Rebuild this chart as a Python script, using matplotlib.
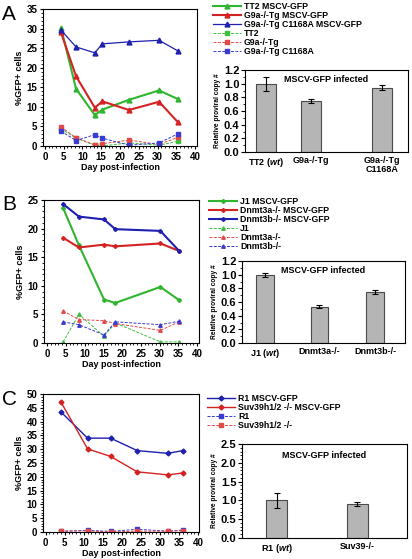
import matplotlib
matplotlib.use("Agg")
import matplotlib.pyplot as plt
from matplotlib.ticker import MultipleLocator

plt.rcParams['font.family'] = ['Liberation Sans', 'DejaVu Sans']
plt.rcParams['font.weight'] = 'bold'
plt.rcParams['mathtext.fontset'] = 'custom'
plt.rcParams['mathtext.it'] = 'Liberation Sans:italic:bold'
plt.rcParams['mathtext.rm'] = 'Liberation Sans:bold'

# ---------------- data ----------------
A_days = [4.3, 8.3, 13.3, 15.3, 22.4, 30.4, 35.4]
A_tt2_gfp = [30.2, 14.6, 7.9, 9.3, 11.8, 14.2, 12.0]
A_g9a_gfp = [29.0, 17.8, 9.8, 11.4, 9.2, 11.3, 6.1]
A_c1168a_gfp = [29.6, 25.3, 23.8, 26.1, 26.6, 27.0, 24.3]
A_tt2 = [4.4, 2.0, 0.2, 0.0, 0.8, 0.2, 1.2]
A_g9a = [4.9, 2.1, 0.3, 0.6, 1.5, 0.4, 2.2]
A_c1168a = [3.8, 1.4, 2.9, 2.0, 0.2, 0.8, 3.1]
A_labels = ['TT2 MSCV-GFP', 'G9a-/-Tg MSCV-GFP', 'G9a-/-Tg C1168A MSCV-GFP',
            'TT2', 'G9a-/-Tg', 'G9a-/-Tg C1168A']

B_days = [4.3, 8.5, 15.2, 18.2, 30.2, 35.2]
B_j1_gfp = [23.6, 17.1, 7.6, 7.0, 9.8, 7.5]
B_3a_gfp = [18.4, 16.7, 17.2, 16.9, 17.4, 16.1]
B_3b_gfp = [24.3, 22.1, 21.6, 19.9, 19.6, 16.1]
B_j1 = [0.2, 5.0, 1.2, 3.5, 0.2, 0.2]
B_3a = [5.6, 4.1, 3.9, 3.4, 2.2, 3.7]
B_3b = [3.7, 3.2, 1.4, 3.7, 3.2, 3.8]
B_labels = ['J1 MSCV-GFP', 'Dnmt3a-/- MSCV-GFP', 'Dnmt3b-/- MSCV-GFP',
            'J1', 'Dnmt3a-/-', 'Dnmt3b-/-']

C_days = [4.0, 11.0, 17.0, 24.0, 32.0, 36.0]
C_r1_gfp = [43.5, 34.0, 34.0, 29.5, 28.5, 29.5]
C_suv_gfp = [47.1, 30.1, 27.4, 21.8, 20.7, 21.4]
C_r1 = [0.2, 0.6, 0.2, 1.0, 0.3, 0.7]
C_suv = [0.4, 0.4, 0.0, 0.3, 0.3, 0.5]
C_labels = ['R1 MSCV-GFP', 'Suv39h1/2 -/- MSCV-GFP', 'R1', 'Suv39h1/2 -/-']

A_bar_labels = ['TT2 ($\\mathit{wt}$)', 'G9a-/-Tg', 'G9a-/-Tg\nC1168A']
A_bar_vals = [1.0, 0.75, 0.94]
A_bar_err = [0.1, 0.03, 0.035]
B_bar_labels = ['J1 ($\\mathit{wt}$)', 'Dnmt3a-/-', 'Dnmt3b-/-']
B_bar_vals = [1.0, 0.53, 0.75]
B_bar_err = [0.03, 0.025, 0.03]
C_bar_labels = ['R1 ($\\mathit{wt}$)', 'Suv39-/-']
C_bar_vals = [1.0, 0.9]
C_bar_err = [0.19, 0.055]

GREEN = '#2fb52f'
RED = '#d42222'
BLUE = '#1f1fb0'
LGREEN = '#3cc03c'
LRED = '#e24a4a'
LBLUE = '#3b3bd0'

W, H = 412, 559
fig = plt.figure(figsize=(W / 100, H / 100), dpi=100)


def add_ax(l, r, t, b):
    return fig.add_axes([l / W, 1 - b / H, (r - l) / W, (b - t) / H])


def style_line_ax(ax, ymax, xlim):
    ax.set_xlim(*xlim)
    ax.set_ylim(0, ymax)
    ax.xaxis.set_major_locator(MultipleLocator(5))
    ax.xaxis.set_minor_locator(MultipleLocator(1))
    ax.yaxis.set_major_locator(MultipleLocator(5))
    ax.yaxis.set_minor_locator(MultipleLocator(1))
    ax.tick_params(which='major', direction='out', length=2.5, width=0.8,
                   labelsize=7, pad=1.5)
    ax.tick_params(which='minor', direction='out', length=1.3, width=0.6)
    for s in ax.spines.values():
        s.set_linewidth(0.8)
    ax.set_xlabel('Day post-infection', fontsize=6.5, fontweight='bold', labelpad=1)
    ax.set_ylabel('%GFP+ cells', fontsize=6.5, fontweight='bold', labelpad=2)


def style_bar_ax(ax, ymax, major, labels, pos, vals, errs, width):
    ax.bar(pos, vals, width=width, color='#b5b5b5', edgecolor='#4a4a4a',
           linewidth=0.8, zorder=2)
    ax.errorbar(pos, vals, yerr=errs, fmt='none', ecolor='black',
                elinewidth=0.8, capsize=2.2, capthick=0.8, zorder=3)
    ax.set_xlim(0, 1)
    ax.set_ylim(0, ymax)
    ax.set_xticks(pos)
    ax.set_xticklabels(labels, fontsize=6.5, fontweight='bold', linespacing=0.95)
    ax.yaxis.set_major_locator(MultipleLocator(major))
    ax.yaxis.set_minor_locator(MultipleLocator(0.1))
    ax.yaxis.set_major_formatter(matplotlib.ticker.FormatStrFormatter('%.1f'))
    ax.tick_params(axis='x', length=0, pad=3)
    ax.tick_params(axis='y', which='major', direction='out', length=3,
                   width=0.8, labelsize=8, pad=1)
    ax.tick_params(axis='y', which='minor', direction='out', length=1.5, width=0.6)
    for s in ax.spines.values():
        s.set_linewidth(0.8)
    ax.set_ylabel('Relative proviral copy #', fontsize=4.8, fontweight='bold',
                  labelpad=2)
    ax.text(0.5, 0.88, 'MSCV-GFP infected', transform=ax.transAxes,
            ha='center', va='center', fontsize=6.5, fontweight='bold')


def add_legend(handles, labels, x, y, hl):
    fig.legend(handles, labels, loc='upper left', bbox_to_anchor=(x / W, 1 - y / H),
               frameon=False, handlelength=hl, handletextpad=0.35,
               labelspacing=0.0, borderpad=0, borderaxespad=0,
               prop={'weight': 'bold', 'size': 6.3})


# ---------------- Panel A ----------------
axA = add_ax(43, 197, 9, 146)
hA = []
hA += axA.plot(A_days, A_tt2_gfp, '-^', color=GREEN, lw=1.5, ms=3.5)
hA += axA.plot(A_days, A_g9a_gfp, '-^', color=RED, lw=1.5, ms=3.5)
hA += axA.plot(A_days, A_c1168a_gfp, '-^', color=BLUE, lw=0.9, ms=3.5)
hA += axA.plot(A_days, A_tt2, '--s', color=LGREEN, lw=0.7, ms=3.2, dashes=(3, 1.5))
hA += axA.plot(A_days, A_g9a, '--s', color=LRED, lw=0.7, ms=3.2, dashes=(3, 1.5))
hA += axA.plot(A_days, A_c1168a, '--s', color=LBLUE, lw=0.7, ms=3.2, dashes=(3, 1.5))
style_line_ax(axA, 35, (-0.5, 40.5))
add_legend(hA, A_labels, 213, 2, 3.2)

axAb = add_ax(245, 408, 70, 152)
style_bar_ax(axAb, 1.2, 0.2, A_bar_labels, [0.129, 0.405, 0.84],
             A_bar_vals, A_bar_err, 0.125)

# ---------------- Panel B ----------------
axB = add_ax(44, 199, 200, 343)
hB = []
hB += axB.plot(B_days, B_j1_gfp, '-P', color=GREEN, lw=1.5, ms=2.5)
hB += axB.plot(B_days, B_3a_gfp, '-P', color=RED, lw=1.5, ms=2.5)
hB += axB.plot(B_days, B_3b_gfp, '-P', color=BLUE, lw=1.5, ms=2.5)
hB += axB.plot(B_days, B_j1, '--^', color=LGREEN, lw=0.7, ms=2.5, dashes=(3, 1.5))
hB += axB.plot(B_days, B_3a, '--^', color=LRED, lw=0.7, ms=2.5, dashes=(3, 1.5))
hB += axB.plot(B_days, B_3b, '--^', color=LBLUE, lw=0.7, ms=2.5, dashes=(3, 1.5))
style_line_ax(axB, 25, (-0.8, 40.5))
add_legend(hB, B_labels, 209, 197, 3.2)

axBb = add_ax(242, 405, 261, 343)
style_bar_ax(axBb, 1.2, 0.2, B_bar_labels, [0.141, 0.473, 0.816],
             B_bar_vals, B_bar_err, 0.105)

# ---------------- Panel C ----------------
axC = add_ax(43, 199, 394, 532)
hC = []
hC += axC.plot(C_days, C_r1_gfp, '-D', color=BLUE, lw=1.0, ms=2.5)
hC += axC.plot(C_days, C_suv_gfp, '-D', color=RED, lw=1.0, ms=2.5)
hC += axC.plot(C_days, C_r1, '--s', color=LBLUE, lw=0.7, ms=3.2, dashes=(3, 1.5))
hC += axC.plot(C_days, C_suv, '--s', color=LRED, lw=0.7, ms=3.2, dashes=(3, 1.5))
style_line_ax(axC, 50, (-0.7, 40.2))
add_legend(hC, C_labels, 207, 394, 3.2)

axCb = add_ax(242, 407, 444, 538)
style_bar_ax(axCb, 2.5, 0.5, C_bar_labels, [0.211, 0.698],
             C_bar_vals, C_bar_err, 0.128)

# panel letters
for letter, y in (('A', 5), ('B', 195), ('C', 390)):
    fig.text(2 / W, 1 - y / H, letter, fontsize=15, fontweight='normal',
             ha='left', va='top')

fig.savefig('out.png', dpi=100)
